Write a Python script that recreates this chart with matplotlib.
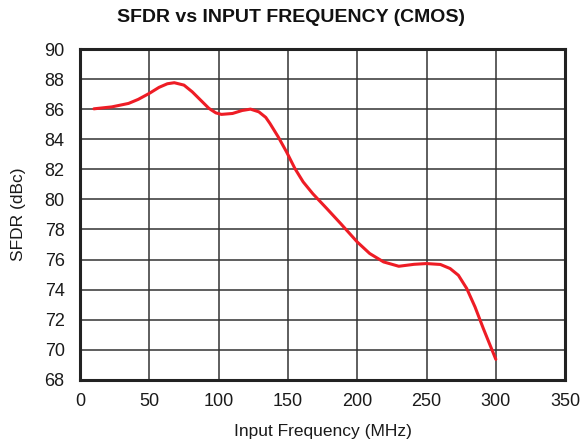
import matplotlib
matplotlib.use("Agg")
import matplotlib.pyplot as plt

freq_mhz = [10, 23, 35, 42, 50, 57, 63, 68, 75, 81, 87, 93, 98, 102, 110,
            117, 123, 129, 134, 137, 143, 149, 155, 161, 168, 178, 188, 200,
            209, 219, 230, 241, 250, 260, 267, 273, 279, 285, 291, 300]
sfdr_dbc = [86.04, 86.17, 86.40, 86.67, 87.07, 87.47, 87.71, 87.78, 87.62,
            87.17, 86.62, 86.07, 85.77, 85.67, 85.73, 85.93, 86.02, 85.84,
            85.47, 85.07, 84.17, 83.17, 82.07, 81.17, 80.38, 79.40, 78.40,
            77.17, 76.40, 75.84, 75.55, 75.68, 75.73, 75.67, 75.40, 74.95,
            74.07, 72.84, 71.40, 69.35]
x_ticks = [0, 50, 100, 150, 200, 250, 300, 350]
y_ticks = [68, 70, 72, 74, 76, 78, 80, 82, 84, 86, 88, 90]

plt.rcParams['font.family'] = ['Liberation Sans', 'DejaVu Sans']

fig = plt.figure(figsize=(5.82, 4.45), dpi=100)
ax = fig.add_axes([0.1375, 0.147, 0.8335, 0.742])
ax.plot(freq_mhz, sfdr_dbc, color='#ee1c25', linewidth=2.2,
        solid_joinstyle='round', solid_capstyle='round', zorder=3)
ax.set_xlim(0, 350)
ax.set_ylim(68, 90)
ax.set_xticks(x_ticks)
ax.set_yticks(y_ticks)
ax.grid(True, color='#333333', linewidth=1.1)
ax.tick_params(axis='y', length=0, labelsize=13, pad=11, colors='#1a1a1a')
ax.tick_params(axis='x', length=0, labelsize=13, pad=10, colors='#1a1a1a')
for s in ax.spines.values():
    s.set_linewidth(2.2)
    s.set_color('#222222')
ax.set_xlabel('Input Frequency (MHz)', fontsize=12.5, labelpad=10, color='#1a1a1a')
ax.set_ylabel('SFDR (dBc)', fontsize=12.5, labelpad=13, color='#1a1a1a')
fig.text(0.5, 0.96, 'SFDR vs INPUT FREQUENCY (CMOS)', ha='center', va='center',
         fontsize=14, fontweight='bold', color='#111111')
fig.savefig('out.png', dpi=100)
